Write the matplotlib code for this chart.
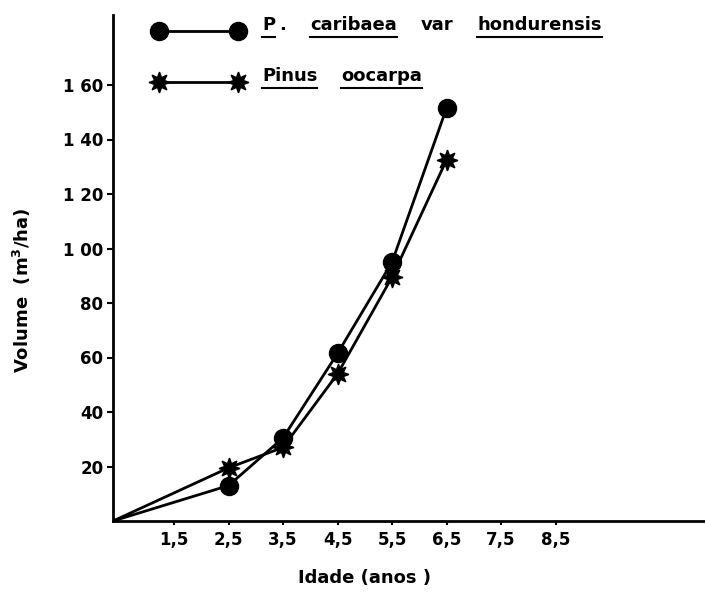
import matplotlib
matplotlib.use("Agg")
import matplotlib.pyplot as plt
from matplotlib.lines import Line2D

# Data
ages = [2.5, 3.5, 4.5, 5.5, 6.5]
origin_age = 0.38          # where both curves start (axis origin)
caribaea_vol = [13.0, 30.5, 61.5, 95.0, 151.5]
oocarpa_vol = [19.5, 27.0, 54.0, 89.5, 132.5]

x_ticks = [1.5, 2.5, 3.5, 4.5, 5.5, 6.5, 7.5, 8.5]
x_tick_labels = ['1,5', '2,5', '3,5', '4,5', '5,5', '6,5', '7,5', '8,5']
y_ticks = [20, 40, 60, 80, 100, 120, 140, 160]
y_tick_labels = ['20', '40', '60', '80', '1 00', '1 20', '1 40', '1 60']

legend_rows = [
    [('P', True), ('.', False), ('caribaea', True), ('var', False), ('hondurensis', True)],
    [('Pinus', True), ('oocarpa', True)],
]

W, H = 705, 593
plt.rcParams['font.family'] = 'DejaVu Sans'
plt.rcParams['font.weight'] = 'bold'

fig = plt.figure(figsize=(W / 100, H / 100), dpi=100)
ax = fig.add_axes([113 / W, 72 / H, 592 / W, 506 / H])

star = (8, 1, 0)
ax.plot([origin_age] + ages, [0] + caribaea_vol, color='black', lw=2,
        marker='o', ms=13, markevery=list(range(1, 6)))
ax.plot([origin_age] + ages, [0] + oocarpa_vol, color='black', lw=2,
        marker=star, ms=15, markevery=list(range(1, 6)))

ax.set_xlim(origin_age, origin_age + 592 / 54.5)
ax.set_ylim(0, 506 / 2.725)

for side in ['top', 'right']:
    ax.spines[side].set_visible(False)
for side in ['left', 'bottom']:
    ax.spines[side].set_linewidth(2)

ax.set_xticks(x_ticks)
ax.set_xticklabels(x_tick_labels, fontsize=12, fontweight='bold')
ax.set_yticks(y_ticks)
ax.set_yticklabels(y_tick_labels, fontsize=12, fontweight='bold')
ax.tick_params(axis='y', direction='out', length=4, width=1.5, pad=3)
ax.tick_params(axis='x', direction='out', length=3, width=1.5, pad=4)

ax.set_xlabel('Idade (anos )', fontsize=13, fontweight='bold')
ax.xaxis.set_label_coords((365 - 113) / 592, -(578 - 521) / 506)
ax.set_ylabel('Volume  (m$^3$/ha)', fontsize=13, fontweight='bold')
ax.yaxis.set_label_coords(-(113 - 22) / 592, (521 - 290) / 506)
ax.xaxis.label.set_va('center')
ax.yaxis.label.set_va('center')

# Hand drawn legend, words underlined as in the original
handle_x = [159 / W, 238 / W]
row_y = [31, 82]
markers = ['o', star]
sizes = [13, 15]
for i, y in enumerate(row_y):
    fig.add_artist(Line2D(handle_x, [1 - y / H] * 2, color='black', lw=2,
                          marker=markers[i], ms=sizes[i],
                          transform=fig.transFigure))

fig.canvas.draw()
renderer = fig.canvas.get_renderer()
for i, words in enumerate(legend_rows):
    x = 262
    ytext = row_y[i] - 6
    for word, under in words:
        t = fig.text(x / W, 1 - ytext / H, word, fontsize=13, fontweight='bold',
                     va='center', ha='left')
        bb = t.get_window_extent(renderer)
        if under:
            yu = bb.y0 - 3
            fig.add_artist(Line2D([bb.x0 / W, bb.x1 / W], [yu / H, yu / H],
                                  color='black', lw=1.5,
                                  transform=fig.transFigure))
        gap = 4 if word == 'P' else 24
        x = bb.x1 + gap

fig.savefig('out.png', dpi=100)
